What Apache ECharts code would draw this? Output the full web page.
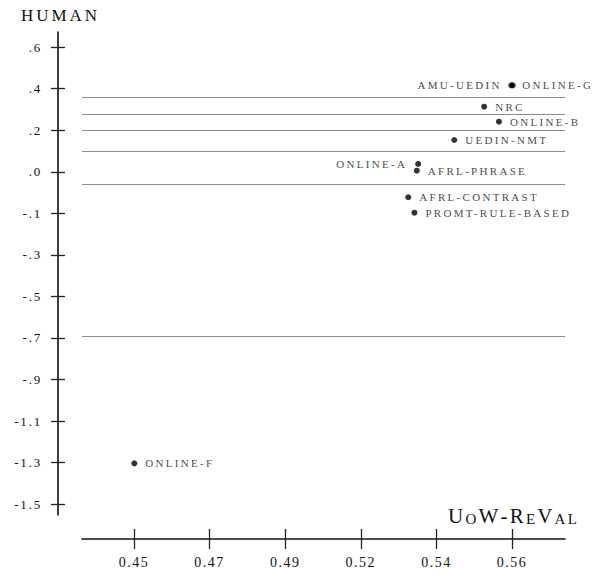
<!DOCTYPE html>
<html>
<head>
<meta charset="utf-8">
<script src="https://cdn.jsdelivr.net/npm/echarts@6/dist/echarts.min.js"></script>
<style>
  html, body { margin: 0; padding: 0; background: #fff; }
  #chart { width: 603px; height: 578px; }
  /* spaced-out serif lettering, tuned per text size */
  #chart text[style*="11px"] { letter-spacing: 2.3px; }
  #chart text[style*="13px"] { letter-spacing: 1.8px; }
  #chart text[style*="14px"] { letter-spacing: 1.5px; }
  #chart text[style*="17px"] { letter-spacing: 3px; }
</style>
</head>
<body>
<div id="chart"></div>
<script>
// WMT system scores: UoW-ReVal metric vs. human judgement
const systems = ['AMU-UEDIN', 'ONLINE-G', 'NRC', 'ONLINE-B', 'UEDIN-NMT', 'ONLINE-A',
                 'AFRL-PHRASE', 'AFRL-CONTRAST', 'PROMT-RULE-BASED', 'ONLINE-F'];
const revalScores = [0.5602, 0.5598, 0.5519, 0.5562, 0.5432, 0.5327, 0.5323, 0.5298, 0.5316, 0.4501];
const humanScores = [0.424, 0.424, 0.326, 0.257, 0.173, 0.063, 0.032, -0.090, -0.161, -1.312];
const leftLabelled = ['AMU-UEDIN', 'ONLINE-A'];

// boundaries between significance clusters
const clusterBounds = [0.373, 0.292, 0.216, 0.117, -0.029, -0.734];

// axis ticks
const xTickValues = [0.45, 0.472, 0.494, 0.516, 0.538, 0.56];
const xTickLabels = ['0.45', '0.47', '0.49', '0.52', '0.54', '0.56'];
const yTickValues = [-1.5, -1.309, -1.118, -0.927, -0.736, -0.545, -0.355, -0.164, 0.027, 0.218, 0.409, 0.6];
const yTickLabels = ['-1.5', '-1.3', '-1.1', '-.9', '-.7', '-.5', '-.3', '-.1', '.0', '.2', '.4', '.6'];

const FONT = 'Liberation Serif';
const INK = '#111';

function lookup(values, labels, v) {
  let best = 0;
  for (let i = 1; i < values.length; i++) {
    if (Math.abs(values[i] - v) < Math.abs(values[best] - v)) best = i;
  }
  return labels[best];
}

const chart = echarts.init(document.getElementById('chart'), null, { renderer: 'svg' });

const xRange = { min: 0.43487, max: 0.57542 };
const yRange = { min: -1.5491, max: 0.6689 };

// Each axis is drawn twice (outer + inner ticks) so the ticks cross the axis line.
function xAxisDef(inner) {
  return {
    type: 'value', position: 'bottom', offset: 24,
    min: xRange.min, max: xRange.max,
    splitLine: { show: false },
    axisLine: { show: !inner, onZero: false, lineStyle: { color: INK, width: 1.6 } },
    axisTick: { show: true, inside: inner, length: 10, customValues: xTickValues,
                lineStyle: { color: '#222', width: 1.3 } },
    axisLabel: { show: !inner, customValues: xTickValues, margin: 16,
                 formatter: v => lookup(xTickValues, xTickLabels, v),
                 fontFamily: FONT, fontSize: 14, color: INK }
  };
}
function yAxisDef(inner) {
  return {
    type: 'value', position: 'left', offset: 24,
    min: yRange.min, max: yRange.max,
    splitLine: { show: false },
    axisLine: { show: !inner, onZero: false, lineStyle: { color: INK, width: 1.6 } },
    axisTick: { show: true, inside: inner, length: 7, customValues: yTickValues,
                lineStyle: { color: '#222', width: 1.3 } },
    axisLabel: { show: !inner, customValues: yTickValues, margin: 16,
                 formatter: v => lookup(yTickValues, yTickLabels, v),
                 fontFamily: FONT, fontSize: 13, color: INK }
  };
}

const points = systems.map((name, i) => ({
  name: name,
  value: [revalScores[i], humanScores[i]],
  label: { position: leftLabelled.includes(name) ? 'left' : 'right' }
}));

const bigCap = { fontFamily: FONT, fontSize: 21, fill: INK, color: INK, lineHeight: 21, verticalAlign: 'bottom', padding: [0, 2.2, 0, 0] };
const smallCap = { fontFamily: FONT, fontSize: 15, fill: INK, color: INK, lineHeight: 21, verticalAlign: 'bottom', padding: [0, 2.2, 0, 0] };

chart.setOption({
  animation: false,
  backgroundColor: '#fff',
  grid: { left: 82, right: 38, top: 32, bottom: 63, containLabel: false, outerBoundsMode: 'none' },
  xAxis: [xAxisDef(false), xAxisDef(true)],
  yAxis: [yAxisDef(false), yAxisDef(true)],
  graphic: [
    {
      type: 'text', x: 60.5, y: 15,
      style: { text: 'HUMAN', fontFamily: FONT, fontSize: 17, fill: INK,
               align: 'center', verticalAlign: 'middle' }
    },
    {
      type: 'text', x: 579, y: 526,
      style: {
        text: '{b|U}{s|O}{b|W}{b|-}{b|R}{s|E}{b|V}{s|A}{s|L}',
        align: 'right', verticalAlign: 'bottom',
        rich: { b: bigCap, s: smallCap }
      }
    }
  ],
  series: [{
    type: 'scatter',
    xAxisIndex: 0, yAxisIndex: 0,
    symbol: 'circle', symbolSize: 6,
    itemStyle: { color: '#000' },
    label: {
      show: true, distance: 8,
      formatter: p => p.name,
      fontFamily: FONT, fontSize: 11, color: INK
    },
    data: points,
    markLine: {
      silent: true, symbol: 'none', animation: false,
      label: { show: false },
      lineStyle: { color: '#8c8c8c', width: 1, type: 'solid' },
      data: clusterBounds.map(v => ({ yAxis: v }))
    }
  }]
});
</script>
</body>
</html>
